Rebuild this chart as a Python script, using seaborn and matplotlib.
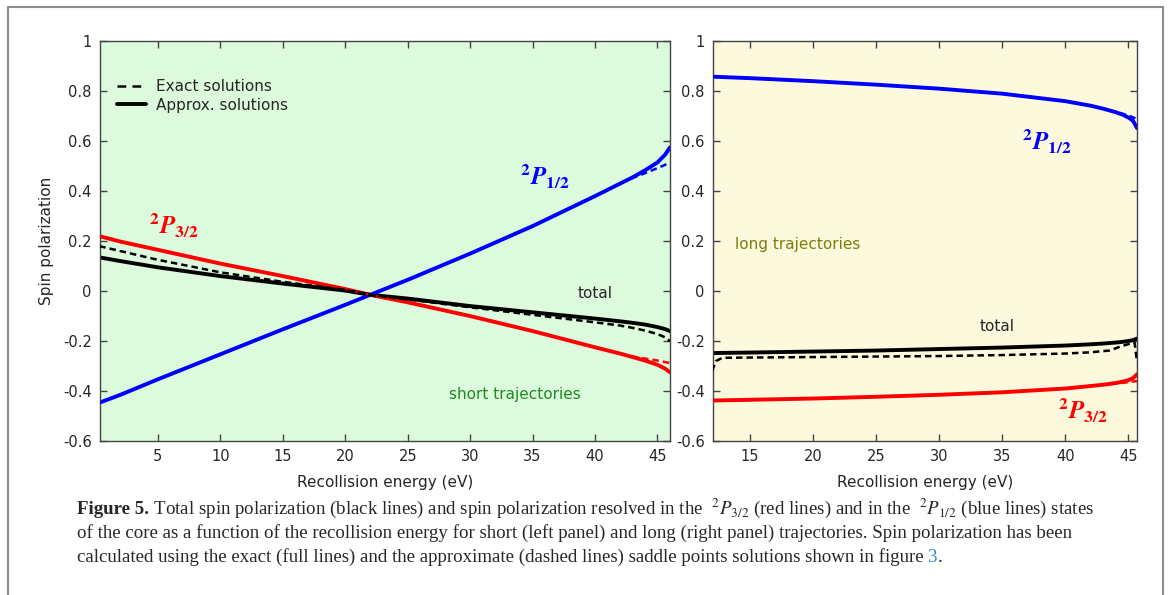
import matplotlib
matplotlib.use('Agg')
from matplotlib import pyplot as plt
from matplotlib.lines import Line2D
from matplotlib.ticker import FuncFormatter, MultipleLocator
import numpy as np
import pandas as pd
import seaborn as sns

# ---- data ----
# short trajectories (left panel)
short_energy = [0.3, 2, 5, 10, 15, 20, 22, 25, 30, 35, 40, 42, 43, 44, 45, 45.6, 46]
short_p12_approx = [-0.447, -0.415, -0.353, -0.253, -0.153, -0.055, -0.015, 0.045,
                    0.15, 0.26, 0.38, 0.43, 0.455, 0.483, 0.515, 0.545, 0.575]
short_p12_exact = [-0.447, -0.415, -0.353, -0.253, -0.153, -0.055, -0.015, 0.045,
                   0.15, 0.26, 0.38, 0.43, 0.452, 0.472, 0.492, 0.505, 0.515]
short_p32_approx = [0.22, 0.198, 0.165, 0.11, 0.06, 0.008, -0.015, -0.045,
                    -0.1, -0.16, -0.225, -0.25, -0.264, -0.278, -0.295, -0.31, -0.325]
short_p32_exact = [0.22, 0.198, 0.165, 0.11, 0.06, 0.008, -0.015, -0.045,
                   -0.1, -0.16, -0.225, -0.25, -0.262, -0.27, -0.278, -0.284, -0.288]
short_tot_approx = [0.135, 0.12, 0.095, 0.06, 0.03, 0.002, -0.015, -0.03,
                    -0.06, -0.085, -0.11, -0.121, -0.127, -0.134, -0.144, -0.152, -0.16]
short_tot_exact = [0.18, 0.16, 0.125, 0.075, 0.037, 0.005, -0.015, -0.033,
                   -0.065, -0.095, -0.125, -0.138, -0.147, -0.158, -0.172, -0.185, -0.2]

# long trajectories (right panel)
long_energy = [12, 15, 20, 25, 30, 35, 40, 42, 43, 44, 44.6, 45.1, 45.4, 45.7]
long_p12_approx = [0.858, 0.852, 0.84, 0.826, 0.81, 0.79, 0.76, 0.742, 0.73, 0.716,
                   0.705, 0.692, 0.68, 0.652]
long_p12_exact = [0.858, 0.852, 0.84, 0.826, 0.81, 0.79, 0.76, 0.742, 0.73, 0.717,
                  0.709, 0.701, 0.695, 0.688]
long_p32_approx = [-0.438, -0.435, -0.43, -0.423, -0.415, -0.405, -0.39, -0.38,
                   -0.375, -0.368, -0.362, -0.355, -0.348, -0.333]
long_p32_exact = [-0.438, -0.435, -0.43, -0.423, -0.415, -0.405, -0.39, -0.38,
                  -0.375, -0.37, -0.367, -0.364, -0.362, -0.36]
long_tot_approx = [-0.248, -0.246, -0.242, -0.238, -0.232, -0.226, -0.218, -0.213,
                   -0.21, -0.206, -0.203, -0.199, -0.196, -0.19]
long_tot_exact_energy = [12, 12.3, 12.8, 15, 20, 25, 30, 35, 40, 42, 43.5, 44.5,
                         45.5, 45.7, 45.7]
long_tot_exact = [-0.32, -0.28, -0.267, -0.266, -0.264, -0.262, -0.26, -0.256,
                  -0.25, -0.245, -0.238, -0.22, -0.205, -0.2, -0.37]

y_ticks = [-0.6, -0.4, -0.2, 0, 0.2, 0.4, 0.6, 0.8, 1]

sns.set_style('ticks')
plt.rcParams['font.family'] = ['DejaVu Sans']
plt.rcParams['mathtext.fontset'] = 'stix'

BLUE = '#0000ff'
RED = '#ff0000'
DASH = (0, (2.6, 1.6))

fig = plt.figure(figsize=(11.68, 5.95), dpi=100)
ax_s = fig.add_axes([0.0856, 0.2588, 0.488, 0.672])
ax_l = fig.add_axes([0.6105, 0.2588, 0.363, 0.672])


def draw_series(ax, x, y, color, dashed):
    df = pd.DataFrame({'energy': x, 'pol': y})
    if dashed:
        sns.lineplot(data=df, x='energy', y='pol', ax=ax, color=color,
                     lw=1.8, linestyle=DASH, sort=False, zorder=3)
    else:
        sns.lineplot(data=df, x='energy', y='pol', ax=ax, color=color,
                     lw=2.8, sort=False, zorder=2)


# left panel
draw_series(ax_s, short_energy, short_p12_approx, BLUE, False)
draw_series(ax_s, short_energy, short_p12_exact, BLUE, True)
draw_series(ax_s, short_energy, short_p32_approx, RED, False)
draw_series(ax_s, short_energy, short_p32_exact, RED, True)
draw_series(ax_s, short_energy, short_tot_approx, 'black', False)
draw_series(ax_s, short_energy, short_tot_exact, 'black', True)

# right panel
draw_series(ax_l, long_energy, long_p12_approx, BLUE, False)
draw_series(ax_l, long_energy, long_p12_exact, BLUE, True)
draw_series(ax_l, long_energy, long_p32_approx, RED, False)
draw_series(ax_l, long_energy, long_p32_exact, RED, True)
draw_series(ax_l, long_energy, long_tot_approx, 'black', False)
draw_series(ax_l, long_tot_exact_energy, long_tot_exact, 'black', True)

fmt = FuncFormatter(lambda v, p: ('%g' % round(v, 2)).replace('\u2212', '-'))
for ax, bg, xl in [(ax_s, '#dcfadc', (0.36, 46)), (ax_l, '#fdf9dd', (12.07, 45.7))]:
    ax.set_facecolor(bg)
    ax.set_xlim(*xl)
    ax.set_ylim(-0.6, 1)
    ax.set_yticks(y_ticks)
    ax.yaxis.set_major_formatter(fmt)
    ax.xaxis.set_major_locator(MultipleLocator(5))
    ax.tick_params(direction='in', top=True, right=True, length=5, width=1,
                   color='#444444', labelsize=10.5, pad=6)
    for sp in ax.spines.values():
        sp.set_color('#444444')
        sp.set_linewidth(1)
    ax.set_xlabel('Recollision energy (eV)', fontsize=11, labelpad=8)
    ax.set_ylabel('')

ax_s.set_ylabel('Spin polarization', fontsize=11, labelpad=6)

lab = dict(fontsize=18, fontweight='bold')
ax_s.text(34.0, 0.46, r'$^{\mathbf{2}}\mathbfit{P}_{\mathbf{1/2}}$', color=BLUE,
          va='center', **lab)
ax_s.text(4.3, 0.265, r'$^{\mathbf{2}}\mathbfit{P}_{\mathbf{3/2}}$', color=RED,
          va='center', **lab)
ax_s.text(38.6, -0.01, 'total', fontsize=11, va='center')
ax_s.text(28.3, -0.415, 'short trajectories', fontsize=11, color='#1f8a1f',
          va='center')

ax_l.text(36.6, 0.60, r'$^{\mathbf{2}}\mathbfit{P}_{\mathbf{1/2}}$', color=BLUE,
          va='center', **lab)
ax_l.text(39.4, -0.475, r'$^{\mathbf{2}}\mathbfit{P}_{\mathbf{3/2}}$', color=RED,
          va='center', **lab)
ax_l.text(33.2, -0.14, 'total', fontsize=11, va='center')
ax_l.text(13.8, 0.185, 'long trajectories', fontsize=11, color='#7d7d10',
          va='center')

handles = [Line2D([], [], color='black', lw=1.8, linestyle=(0, (3.5, 2.5))),
           Line2D([], [], color='black', lw=2.8)]
ax_s.legend(handles, ['Exact solutions', 'Approx. solutions'], loc='upper left',
            bbox_to_anchor=(0.005, 0.94), frameon=False, fontsize=11,
            handlelength=1.9, handletextpad=0.7, labelspacing=0.25)

# outer frame (left, top, right)
frame_c = '#8c8c8c'
for xs, ys in [([0.0068, 0.0068], [0, 0.9885]), ([0.0068, 0.9957], [0.9885, 0.9885]),
               ([0.9957, 0.9957], [0, 0.9885])]:
    fig.add_artist(Line2D(xs, ys, color=frame_c, lw=1.5, transform=fig.transFigure))

# caption, pieces placed one after another on a shared baseline
cap = dict(fontsize=13.6, family='Liberation Serif', va='baseline')
renderer = fig.canvas.get_renderer()
W = fig.get_figwidth() * fig.dpi


def caption_line(x0, y_px, pieces):
    x = x0
    for txt, extra in pieces:
        t = fig.text(x, 1 - y_px / 595, txt, **cap, **extra)
        x += t.get_window_extent(renderer).width / W
    return x


cx = 77 / W
caption_line(cx, 514, [
    ('Figure 5.', dict(fontweight='bold')),
    (' Total spin polarization (black lines) and spin polarization resolved in the  '
     r'$^{2}P_{3/2}$ (red lines) and in the  $^{2}P_{1/2}$ (blue lines) states', {}),
])
caption_line(cx, 538, [
    ('of the core as a function of the recollision energy for short (left panel) and '
     'long (right panel) trajectories. Spin polarization has been', {}),
])
caption_line(cx, 562, [
    ('calculated using the exact (full lines) and the approximate (dashed lines) '
     'saddle points solutions shown in figure\u00a0', {}),
    ('3', dict(color='#2a8fd0')),
    ('.', {}),
])

fig.savefig('out.png', dpi=100)
